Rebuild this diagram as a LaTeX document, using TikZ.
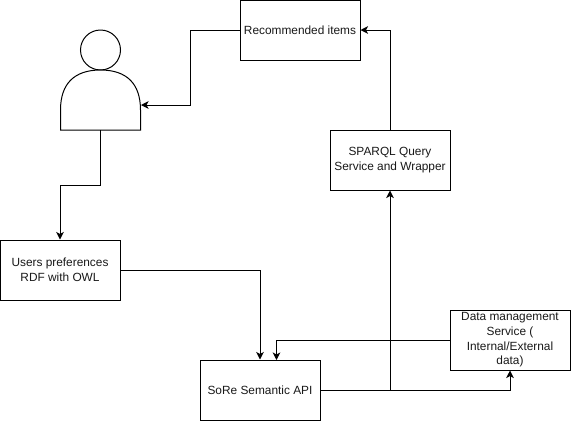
\documentclass[tikz,border=0pt]{standalone}
\usepackage{fontspec}
\setmainfont{Liberation Sans}
\usetikzlibrary{arrows.meta}
\definecolor{txt}{gray}{0.1}
\tikzset{
  box/.style={draw=black,fill=white,line width=0.75pt,minimum width=#1,minimum height=45pt,inner sep=0pt,align=center,text=txt,font=\fontsize{8.9pt}{11pt}\selectfont},
  box/.default=90pt,
  conn/.style={draw=black,line width=0.75pt,-{Stealth[length=5.6pt,width=5.6pt,inset=1.4pt]}}
}
\begin{document}
\begin{tikzpicture}[x=0.75pt,y=-0.75pt]
\useasboundingbox (0,0) rectangle (571,422);
\fill[white] (0,0) rectangle (571,422);
\node[box=90pt] (rec) at (300,30) {Recommended items};
\node[box=90pt] (sparql) at (390,160) {SPARQL Query\\Service and Wrapper};
\node[box=90pt] (prefs) at (60,270) {Users preferences\\RDF with OWL};
\node[box=90pt] (sore) at (260,390) {SoRe Semantic API};
\node[box=90pt] (data) at (510,340) {Data management\\Service (\\Internal/External\\data)};
\draw[line width=0.75pt,fill=white] (100.5,50) circle (20*0.75pt);
\draw[line width=0.75pt,fill=white] (60.5,130) -- (60.5,110) .. controls (60.5,84) and (74,70) .. (100.5,70) .. controls (127,70) and (140.5,84) .. (140.5,110) -- (140.5,130) -- cycle;
\coordinate (userR) at (141,105);
\coordinate (userB) at (100.5,130);
\coordinate (j1) at (390,390);
\draw[conn] (rec.west) -- (190,30) -- (190,105) -- (userR);
\draw[conn] (userB) -- (100.5,185) -- (60,185) -- (prefs.north);
\draw[conn] (prefs.east) -- (260,270) -- (sore.north);
\draw[conn] (sore.east) -- (510,390) -- (data.south);
\draw[conn] (j1) -- (sparql.south);
\draw[conn] (sparql.north) -- (390,30) -- (rec.east);
\draw[conn] (data.west) -- (276.5,340) -- (276.5,360);
\end{tikzpicture}
\end{document}
